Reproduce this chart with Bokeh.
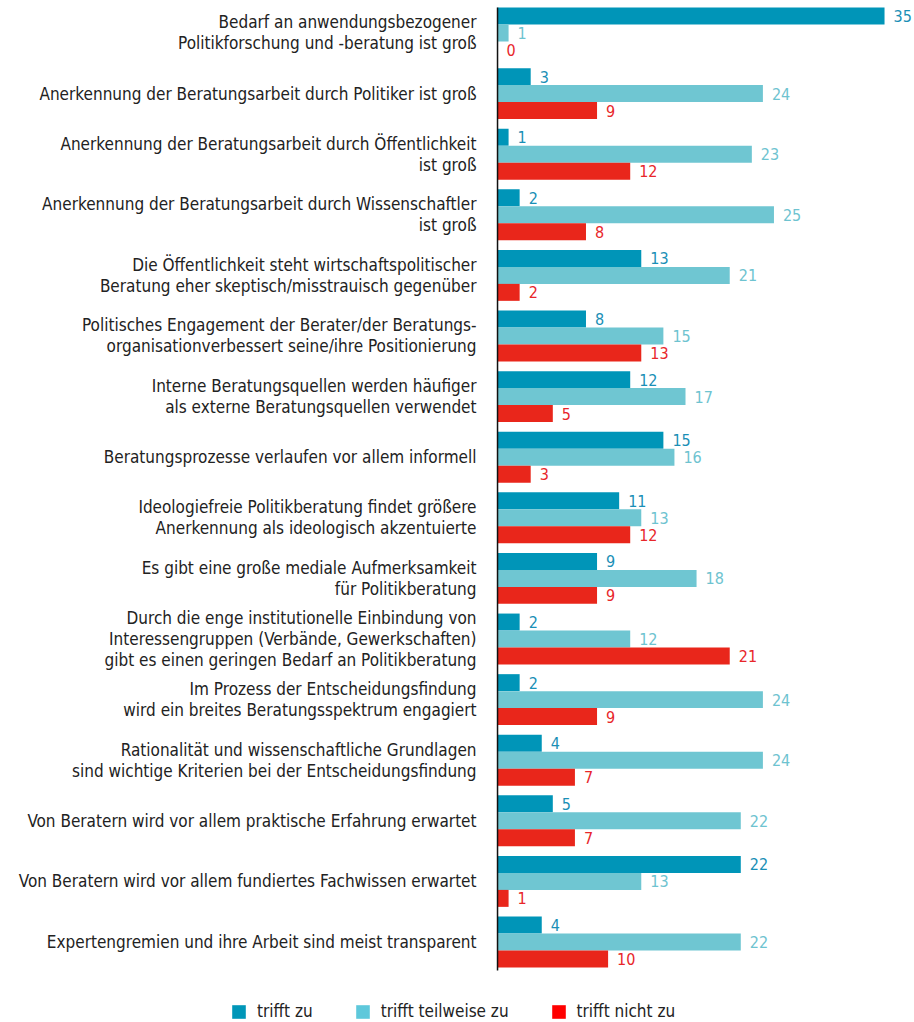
from bokeh.plotting import figure
from bokeh.models import ColumnDataSource, Legend, LegendItem, Range1d
from bokeh.transform import dodge
from bokeh.embed import file_html
from bokeh.resources import INLINE
from bokeh.core.properties import value

categories = [
    "Bedarf an anwendungsbezogener\nPolitikforschung und -beratung ist groß",
    "Anerkennung der Beratungsarbeit durch Politiker ist groß",
    "Anerkennung der Beratungsarbeit durch Öffentlichkeit\nist groß",
    "Anerkennung der Beratungsarbeit durch Wissenschaftler\nist groß",
    "Die Öffentlichkeit steht wirtschaftspolitischer\nBeratung eher skeptisch/misstrauisch gegenüber",
    "Politisches Engagement der Berater/der Beratungs-\norganisationverbessert seine/ihre Positionierung",
    "Interne Beratungsquellen werden häufiger\nals externe Beratungsquellen verwendet",
    "Beratungsprozesse verlaufen vor allem informell",
    "Ideologiefreie Politikberatung findet größere\nAnerkennung als ideologisch akzentuierte",
    "Es gibt eine große mediale Aufmerksamkeit\nfür Politikberatung",
    "Durch die enge institutionelle Einbindung von\nInteressengruppen (Verbände, Gewerkschaften)\ngibt es einen geringen Bedarf an Politikberatung",
    "Im Prozess der Entscheidungsfindung\nwird ein breites Beratungsspektrum engagiert",
    "Rationalität und wissenschaftliche Grundlagen\nsind wichtige Kriterien bei der Entscheidungsfindung",
    "Von Beratern wird vor allem praktische Erfahrung erwartet",
    "Von Beratern wird vor allem fundiertes Fachwissen erwartet",
    "Expertengremien und ihre Arbeit sind meist transparent",
]
trifft_zu = [35, 3, 1, 2, 13, 8, 12, 15, 11, 9, 2, 2, 4, 5, 22, 4]
trifft_teilweise = [1, 24, 23, 25, 21, 15, 17, 16, 13, 18, 12, 24, 24, 22, 13, 22]
trifft_nicht = [0, 9, 12, 8, 2, 13, 5, 3, 12, 9, 21, 9, 7, 7, 1, 10]
series_names = ["trifft zu", "trifft teilweise zu", "trifft nicht zu"]

bar_colors = ["#0095b8", "#6fc6d2", "#e9261b"]
label_colors = ["#1a8fb6", "#6ec3d0", "#e8262a"]
legend_colors = ["#0096b8", "#5ec8db", "#ff0000"]
FONT = "DejaVu Sans Condensed"

n = len(categories)
ypos = [n - i for i in range(n)]  # first category at the top

src = ColumnDataSource(dict(
    cat=categories, y=ypos,
    a=trifft_zu, b=trifft_teilweise, c=trifft_nicht,
    la=[str(v) for v in trifft_zu],
    lb=[str(v) for v in trifft_teilweise],
    lc=[str(v) for v in trifft_nicht],
))

# pixel scale: 11.057 px per unit in x, 60.6 px per category in y
p = figure(width=914, height=1022,
           x_range=Range1d(-44.95, 37.71), y_range=Range1d(-0.328, n + 0.536),
           output_backend="svg", toolbar_location=None,
           min_border_left=0, min_border_right=0, min_border_top=0,
           min_border_bottom=0)
p.outline_line_color = None
p.grid.grid_line_color = None
p.axis.visible = False
p.background_fill_color = "white"

bh = 0.28
offs = [bh, 0.0, -bh]
cols = ["a", "b", "c"]
lcols = ["la", "lb", "lc"]
for i in range(3):
    p.hbar(y=dodge("y", offs[i]), right=cols[i], left=0, height=bh,
           source=src, fill_color=bar_colors[i], line_color=None)
    p.text(x=cols[i], y=dodge("y", offs[i]), text=lcols[i], source=src,
           x_offset=9, text_align="left", text_baseline="middle",
           text_font=value(FONT), text_font_size="16px", text_color=label_colors[i])

# category labels, right-aligned left of the baseline
p.text(x=0, y="y", text="cat", source=src, x_offset=-21,
       text_align="right", text_baseline="middle",
       text_font=value(FONT), text_font_size="17px", text_color="#222222",
       text_line_height=1.05)

# vertical baseline (category axis line)
p.segment(x0=[0], y0=[min(ypos) - 1.5 * bh - 0.05], x1=[0], y1=[max(ypos) + 1.5 * bh],
          line_color="#111111", line_width=1.5)

legend_renderers = []
for i in range(3):
    r = p.hbar(y=[ypos[0]], right=[0], left=0, height=0,
               fill_color=legend_colors[i], line_color=None)
    legend_renderers.append(r)

legend = Legend(items=[LegendItem(label=series_names[i], renderers=[legend_renderers[i]])
                       for i in range(3)],
                orientation="horizontal", location=(230, 1),
                glyph_width=17, glyph_height=17, label_text_font=FONT,
                label_text_font_size="17px", label_text_color="#222222",
                spacing=41, label_standoff=10, padding=0, margin=0,
                border_line_color=None, background_fill_alpha=0)
p.add_layout(legend, "center")

open("out.html", "w").write(file_html(p, INLINE))
